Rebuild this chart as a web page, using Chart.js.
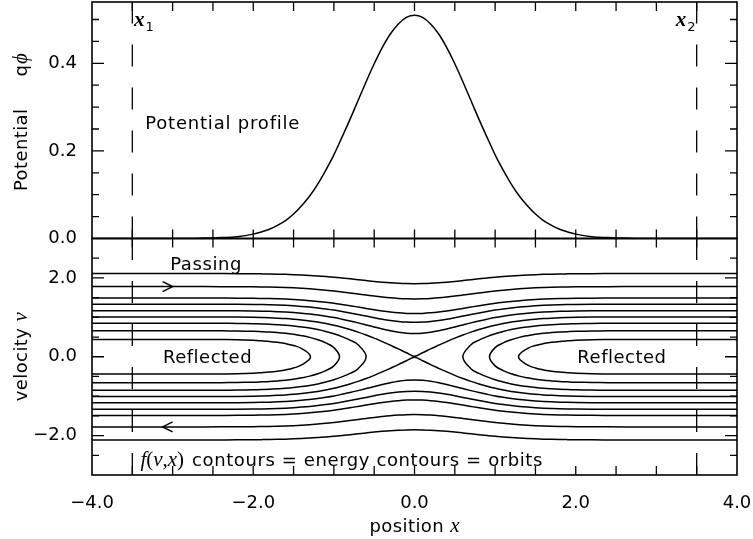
<!DOCTYPE html>
<html><head><meta charset="utf-8">
<script src="https://cdn.jsdelivr.net/npm/chart.js@4.4.0/dist/chart.umd.min.js"></script>
<style>html,body{margin:0;padding:0;background:#fff;} #wrap{width:753px;height:539px;}</style>
</head><body>
<div id="wrap"><canvas id="c" width="753" height="539"></canvas></div>
<script>
// sample positions along x, and q*phi at each one
const xs  = [-4,-3.5,-3,-2.8,-2.6,-2.4,-2.2,-2.0,-1.9,-1.8,-1.7,-1.6,-1.5,-1.4,-1.3,-1.2,-1.1,-1.0,-0.9,-0.8,-0.7,-0.6,-0.5,-0.4,-0.3,-0.2,-0.1,
             0,0.1,0.2,0.3,0.4,0.5,0.6,0.7,0.8,0.9,1.0,1.1,1.2,1.3,1.4,1.5,1.6,1.7,1.8,1.9,2.0,2.2,2.4,2.6,2.8,3,3.5,4];
const phi = [0,0,0,0,0.001,0.002,0.004,0.010,0.015,0.021,0.030,0.041,0.056,0.075,0.097,0.124,0.156,0.191,0.231,0.272,0.315,0.358,0.399,0.436,0.467,0.490,0.505,
             0.510,0.505,0.490,0.467,0.436,0.399,0.358,0.315,0.272,0.231,0.191,0.156,0.124,0.097,0.075,0.056,0.041,0.030,0.021,0.015,0.010,0.004,0.002,0.001,0,0,0,0];
// |v| of each contour far from the hump (x = +-4)
const passingV   = [2.11, 1.78, 1.49, 1.335, 1.17, 1.01];
const reflectedV = [0.85, 0.66, 0.44];
const turnX      = [0.60, 0.93, 1.29];   // where the reflected orbits turn round
const probeX   = [-3.5, 3.5];
const xTicks   = [-4, -2, 0, 2, 4];
const phiTicks = [0, 0.2, 0.4];
const vTicks   = [-2, 0, 2];

const SANS = '"DejaVu Sans"';
const ITAL = '"Liberation Serif"';

// energy contours: v^2/2 + q phi = const
function branch(L, sign){
  return xs.map((x,i)=>({x, y: sign*Math.sqrt(Math.max(0, L*L-2*phi[i]))}));
}
function closedLoop(L, xt, side){
  const up = [];
  xs.forEach((x,i)=>{ const d=L*L-2*phi[i]; if(d>0.01 && x*side>0) up.push({x, y:Math.sqrt(d)}); });
  if(side>0) up.reverse();               // start from the outer edge
  const down = up.slice().reverse().map(p=>({x:p.x, y:-p.y}));
  return up.concat([{x:side*xt, y:0}], down);
}

const line = (data, yAxisID, extra)=>Object.assign({data, yAxisID, showLine:true, borderColor:'#000',
  borderWidth:1.5, pointRadius:0, fill:false}, extra||{});

const datasets = [];
datasets.push(line(xs.map((x,i)=>({x, y:phi[i]})), 'yTop', {cubicInterpolationMode:'monotone'}));
passingV.forEach(L=>{
  datasets.push(line(branch(L, 1), 'yBot', {cubicInterpolationMode:'monotone'}));
  datasets.push(line(branch(L,-1), 'yBot', {cubicInterpolationMode:'monotone'}));
});
reflectedV.forEach((L,k)=>{
  datasets.push(line(closedLoop(L, turnX[k], -1), 'yBot', {tension:0.4}));
  datasets.push(line(closedLoop(L, turnX[k],  1), 'yBot', {tension:0.4}));
});
probeX.forEach(x=>{
  datasets.push(line([{x, y:0},{x, y:0.54}], 'yTop', {borderDash:[22,21], borderWidth:1.3}));
  datasets.push(line([{x, y:-3},{x, y:3}], 'yBot', {borderDash:[22,21], borderWidth:1.3}));
});

const fmt = v => (v<0?'\u2212':'') + Math.abs(v).toFixed(1);
const tickFont = {family:SANS, size:18};

function rich(ctx, parts){
  let w=0;
  parts.forEach(p=>{ ctx.font=p.f; ctx.letterSpacing=p.ls||'0px'; w+=(p.gap||0)+ctx.measureText(p.t).width; });
  return w;
}
function drawRich(ctx, x, y, parts, rot){
  ctx.save(); ctx.translate(x,y); if(rot) ctx.rotate(rot);
  ctx.textAlign='left'; ctx.textBaseline='alphabetic'; ctx.fillStyle='#000';
  let cx=0;
  parts.forEach(p=>{
    ctx.font=p.f; ctx.letterSpacing=p.ls||'0px';
    cx+=p.gap||0;
    ctx.fillText(p.t, cx, p.dy||0);
    cx+=ctx.measureText(p.t).width;
  });
  ctx.restore();
}

const decor = {
  id:'decor',
  afterDraw(chart){
    const ctx=chart.ctx, xa=chart.scales.x, yt=chart.scales.yTop, yb=chart.scales.yBot;
    const L=xa.left, R=xa.right;
    ctx.save();
    ctx.strokeStyle='#000'; ctx.lineWidth=1.6;
    // frames
    [[yt.top,yt.bottom],[yb.top,yb.bottom]].forEach(([t,b])=>ctx.strokeRect(L,t,R-L,b-t));
    ctx.lineWidth=1.3;
    ctx.beginPath();
    // x ticks every 0.5 on both edges of both panels
    for(let k=-7;k<=7;k++){
      const px=xa.getPixelForValue(k*0.5);
      [yt,yb].forEach(s=>{ ctx.moveTo(px,s.top); ctx.lineTo(px,s.top+9); ctx.moveTo(px,s.bottom); ctx.lineTo(px,s.bottom-9); });
    }
    for(let i=1;i<=10;i++){
      const py=yt.getPixelForValue(i*0.05), len=(i%4===0)?12:7;
      ctx.moveTo(L,py); ctx.lineTo(L+len,py); ctx.moveTo(R,py); ctx.lineTo(R-len,py);
    }
    for(let i=-5;i<=5;i++){
      const py=yb.getPixelForValue(i*0.5), len=(i%4===0)?12:7;
      ctx.moveTo(L,py); ctx.lineTo(L+len,py); ctx.moveTo(R,py); ctx.lineTo(R-len,py);
    }
    ctx.stroke();

    // direction arrows on the second passing orbit
    const ax=xa.getPixelForValue(-3.0);
    const a1=yb.getPixelForValue(passingV[1]), a2=yb.getPixelForValue(-passingV[1]);
    ctx.lineWidth=1.5;
    ctx.beginPath();
    ctx.moveTo(ax-10,a1-5); ctx.lineTo(ax,a1); ctx.lineTo(ax-10,a1+5);
    ctx.moveTo(ax,a2-5); ctx.lineTo(ax-10,a2); ctx.lineTo(ax,a2+5);
    ctx.stroke();
    ctx.restore();

    const sans=`18px ${SANS}`, ital=`italic 21px ${ITAL}`, bital=`italic bold 21px ${ITAL}`, sub=`13px ${SANS}`;
    const at=(x,s,y)=>[xa.getPixelForValue(x), s.getPixelForValue(y)];
    const put=(x,s,y,parts)=>{ const [px,py]=at(x,s,y); drawRich(ctx,px,py,parts); };
    put(-3.34, yt, 0.25, [{t:'Potential profile', f:sans, ls:'0.8px'}]);
    put(-3.48, yt, 0.486, [{t:'x', f:bital},{t:'1', f:sub, dy:5, gap:1}]);
    put( 3.24, yt, 0.486, [{t:'x', f:bital},{t:'2', f:sub, dy:5, gap:1}]);
    put(-3.03, yb, 2.21, [{t:'Passing', f:sans, ls:'0.6px'}]);
    put(-3.12, yb, -0.16, [{t:'Reflected', f:sans, ls:'0.5px'}]);
    put( 2.02, yb, -0.16, [{t:'Reflected', f:sans, ls:'0.5px'}]);
    put(-3.40, yb, -2.76, [{t:'f', f:ital},{t:'(', f:`21px ${ITAL}`},{t:'v', f:ital},{t:',', f:`21px ${ITAL}`},
      {t:'x', f:ital},{t:')', f:`21px ${ITAL}`},{t:'contours = energy contours = orbits', f:sans, ls:'0.6px', gap:8}]);

    // axis titles
    const xt=[{t:'position ', f:sans, ls:'0.4px'},{t:'x', f:ital}];
    drawRich(ctx, (L+R)/2 - rich(ctx,xt)/2, 532, xt);
    const vt=[{t:'velocity ', f:sans, ls:'0.4px'},{t:'v', f:ital}];
    drawRich(ctx, 27, (yb.top+yb.bottom)/2 + rich(ctx,vt)/2, vt, -Math.PI/2);
    drawRich(ctx, 27, 191, [{t:'Potential', f:sans, ls:'0.4px'},{t:'q', f:sans, gap:32},{t:'\u03D5', f:ital, gap:1}], -Math.PI/2);
  }
};

new Chart(document.getElementById('c'), {
  type:'scatter',
  data:{datasets},
  options:{
    responsive:false, animation:false, devicePixelRatio:1,
    layout:{padding:{top:2, right:16, left:0, bottom:0}},
    plugins:{legend:{display:false}, tooltip:{enabled:false}},
    events:[],
    scales:{
      x:{type:'linear', min:-4, max:4,
         grid:{display:false, drawTicks:false}, border:{display:false},
         afterBuildTicks:s=>{ s.ticks=xTicks.map(v=>({value:v})); },
         afterFit:s=>{ s.height=64; s.paddingLeft=0; s.paddingRight=0; },
         ticks:{font:tickFont, color:'#000', padding:18, maxRotation:0, callback:fmt}},
      yBot:{type:'linear', position:'left', stack:'panels', stackWeight:1, min:-3, max:3,
         grid:{display:false, drawTicks:false}, border:{display:false},
         afterBuildTicks:s=>{ s.ticks=vTicks.map(v=>({value:v})); },
         afterFit:s=>{ s.width=92; s.paddingTop=0; s.paddingBottom=0; },
         ticks:{font:tickFont, color:'#000', padding:15, callback:fmt}},
      yTop:{type:'linear', position:'left', stack:'panels', stackWeight:1, min:0, max:0.54,
         grid:{display:false, drawTicks:false}, border:{display:false},
         afterBuildTicks:s=>{ s.ticks=phiTicks.map(v=>({value:v})); },
         afterFit:s=>{ s.width=92; s.paddingTop=0; s.paddingBottom=0; },
         ticks:{font:tickFont, color:'#000', padding:15, callback:fmt}}
    }
  },
  plugins:[decor]
});
</script>
</body></html>
